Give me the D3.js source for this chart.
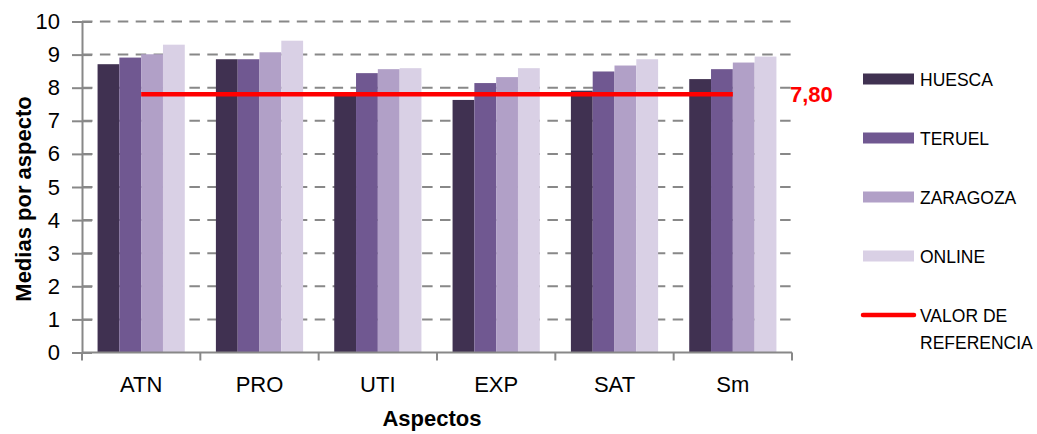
<!DOCTYPE html>
<html>
<head>
<meta charset="utf-8">
<script src="https://cdn.jsdelivr.net/npm/d3@7"></script>
<style>
  body { margin: 0; background: #fff; }
  text { font-family: "Liberation Sans", Arial, sans-serif; }
</style>
</head>
<body>
<div id="chart"></div>
<script>
"use strict"

const categories = ['ATN', 'PRO', 'UTI', 'EXP', 'SAT', 'Sm'];
const seriesNames = ['HUESCA', 'TERUEL', 'ZARAGOZA', 'ONLINE'];
const huesca = [8.71, 8.86, 7.78, 7.63, 7.91, 8.26];
const teruel = [8.91, 8.86, 8.44, 8.14, 8.49, 8.56];
const zaragoza = [9.01, 9.07, 8.56, 8.32, 8.67, 8.76];
const online = [9.30, 9.42, 8.59, 8.59, 8.86, 8.94];
const referenceValue = 7.80;
const referenceLabel = '7,80';
const referenceName = ['VALOR DE', 'REFERENCIA'];
const yTicks = [0, 1, 2, 3, 4, 5, 6, 7, 8, 9, 10];

const colors = ['#403151', '#705891', '#b1a0c7', '#d9d0e5'];
const gridColor = '#888888';

let seriesValues = [huesca, teruel, zaragoza, online];
let rows = categories.map((c, i) => ({
  category: c,
  values: seriesNames.map((s, j) => ({ series: s, value: seriesValues[j][i] }))
}));

let width = 1037, height = 434;
let plotLeft = 82, plotRight = 792, plotTop = 21.5, plotBottom = 352.5;

let svg = (
  d3.select('#chart')
    .append('svg')
    .attr('width', width)
    .attr('height', height));

let x0 = d3.scaleBand().domain(categories).range([plotLeft, plotRight]);
let x1 = (
  d3.scaleBand()
    .domain(seriesNames)
    .range([0, x0.bandwidth()])
    .paddingOuter(0.714));
let y = d3.scaleLinear().domain([0, 10]).range([plotBottom, plotTop]);
let color = d3.scaleOrdinal().domain(seriesNames).range(colors);

// Draw dashed gridlines
(svg.append('g')
  .selectAll('line')
    .data(yTicks.filter((t) => t > 0))
  .enter()
    .append('line')
      .attr('x1', plotLeft)
      .attr('x2', plotRight)
      .attr('y1', (d) => y(d))
      .attr('y2', (d) => y(d))
      .attr('stroke', gridColor)
      .attr('stroke-width', 2)
      .attr('stroke-dasharray', '10.5,7.4')
);

// Draw bars
(svg.append('g')
  .selectAll('g')
    .data(rows)
  .enter()
    .append('g')
      .attr('transform', (d) => `translate(${x0(d.category)},0)`)
  .selectAll('rect')
    .data((d) => d.values)
  .enter()
    .append('rect')
      .attr('x', (d) => x1(d.series))
      .attr('width', x1.bandwidth())
      .attr('y', (d) => y(d.value))
      .attr('height', (d) => y(0) - y(d.value))
      .attr('fill', (d) => color(d.series))
);

// Draw y axis
let yAxis = (
  svg.append('g')
    .attr('transform', `translate(${plotLeft},0)`)
    .call(d3.axisLeft(y).tickValues(yTicks).tickSize(10).tickPadding(12)));
yAxis.select('.domain').attr('stroke', gridColor).attr('stroke-width', 2);
(yAxis.selectAll('.tick line')
  .attr('x1', 10)
  .attr('x2', -10)
  .attr('stroke', gridColor)
  .attr('stroke-width', 2));
(yAxis.selectAll('.tick text')
  .attr('font-size', 22)
  .attr('fill', '#000')
  .attr('font-family', '"Liberation Sans", Arial, sans-serif'));

// Draw x axis
let boundaries = categories.map((c) => x0(c)).concat([plotRight]);
let xAxis = svg.append('g');
(xAxis.append('line')
  .attr('x1', plotLeft)
  .attr('x2', plotRight)
  .attr('y1', plotBottom)
  .attr('y2', plotBottom)
  .attr('stroke', gridColor)
  .attr('stroke-width', 2));
(xAxis.selectAll('.xtick')
    .data(boundaries)
  .enter()
    .append('line')
      .attr('x1', (d) => d)
      .attr('x2', (d) => d)
      .attr('y1', plotBottom)
      .attr('y2', plotBottom + 8)
      .attr('stroke', gridColor)
      .attr('stroke-width', 2)
);
(xAxis.selectAll('.xlabel')
    .data(categories)
  .enter()
    .append('text')
      .attr('x', (d) => x0(d) + x0.bandwidth() / 2)
      .attr('y', 392)
      .attr('text-anchor', 'middle')
      .attr('font-size', 22)
      .text((d) => d)
);

// Draw axis titles
(svg.append('text')
  .attr('x', 432)
  .attr('y', 426)
  .attr('text-anchor', 'middle')
  .attr('font-size', 22)
  .attr('font-weight', 'bold')
  .text('Aspectos'));
(svg.append('text')
  .attr('transform', 'translate(31,199) rotate(-90)')
  .attr('text-anchor', 'middle')
  .attr('font-size', 22)
  .attr('font-weight', 'bold')
  .text('Medias por aspecto'));

// Draw reference line and its value
let firstCenter = x0(categories[0]) + x0.bandwidth() / 2;
let lastCenter = x0(categories[categories.length - 1]) + x0.bandwidth() / 2;
(svg.append('line')
  .attr('x1', firstCenter)
  .attr('x2', lastCenter)
  .attr('y1', y(referenceValue))
  .attr('y2', y(referenceValue))
  .attr('stroke', '#ff0000')
  .attr('stroke-width', 4.5));
(svg.append('text')
  .attr('x', 790)
  .attr('y', y(referenceValue) + 7.5)
  .attr('font-size', 22)
  .attr('font-weight', 'bold')
  .attr('fill', '#ff0000')
  .text(referenceLabel));

// Draw legend
let legendTop = 79, legendStep = 59;
let legend = svg.append('g');
(legend.selectAll('rect')
    .data(seriesNames)
  .enter()
    .append('rect')
      .attr('x', 863)
      .attr('y', (d, i) => legendTop + i * legendStep - 5.5)
      .attr('width', 51)
      .attr('height', 11)
      .attr('fill', (d) => color(d))
);
(legend.selectAll('text.series')
    .data(seriesNames)
  .enter()
    .append('text')
      .attr('class', 'series')
      .attr('x', 920)
      .attr('y', (d, i) => legendTop + i * legendStep + 6.5)
      .attr('font-size', 17.5)
      .text((d) => d)
);
let refY = legendTop + seriesNames.length * legendStep;
(legend.append('line')
  .attr('x1', 863)
  .attr('x2', 914)
  .attr('y1', refY)
  .attr('y2', refY)
  .attr('stroke', '#ff0000')
  .attr('stroke-width', 4.5)
  .attr('stroke-linecap', 'round'));
(legend.selectAll('text.ref')
    .data(referenceName)
  .enter()
    .append('text')
      .attr('class', 'ref')
      .attr('x', 920)
      .attr('y', (d, i) => refY + 6.5 + i * 27)
      .attr('font-size', 17.5)
      .text((d) => d)
);
</script>
</body>
</html>
